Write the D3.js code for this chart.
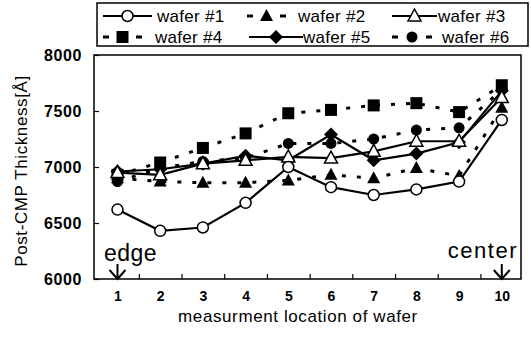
<!DOCTYPE html>
<html><head><meta charset="utf-8">
<script src="https://cdn.jsdelivr.net/npm/d3@7"></script>
<style>
html,body{margin:0;padding:0;background:#fff;}
text{font-family:"Liberation Sans",Arial,sans-serif;fill:#000;}
</style></head>
<body><svg id="c" width="531" height="338"></svg>
<script>
const locations = [1,2,3,4,5,6,7,8,9,10];
const seriesNames = ["wafer #1","wafer #2","wafer #3","wafer #4","wafer #5","wafer #6"];
const wafer1 = [6620,6430,6460,6680,7000,6820,6750,6800,6870,7420];
const wafer2 = [6900,6870,6860,6860,6880,6930,6900,6990,6920,7530];
const wafer3 = [6950,6930,7030,7060,7090,7080,7140,7230,7230,7620];
const wafer4 = [6930,7040,7170,7300,7480,7510,7550,7570,7490,7730];
const wafer5 = [6960,6980,7030,7100,7060,7290,7060,7120,7220,7680];
const wafer6 = [6870,6990,7050,7080,7210,7210,7250,7330,7350,7690];
const yTicks = [6000,6500,7000,7500,8000];
const xTickLabels = ["1","2","3","4","5","6","7","8","9","10"];

const seriesValues = [wafer1,wafer2,wafer3,wafer4,wafer5,wafer6];
const markerTypes = ["circleOpen","triangleFilled","triangleOpen","square","diamond","circleFilled"];
const dashed = [false,true,false,true,false,true];

const svg = d3.select("#c");
const L=94, R=521, T=55, B=279;
const x = d3.scaleLinear().domain([0.45,10.45]).range([L,R]);
const y = d3.scaleLinear().domain([6000,8000]).range([B,T]);

svg.append("rect").attr("x",L).attr("y",T).attr("width",R-L).attr("height",B-T)
  .attr("fill","none").attr("stroke","#000").attr("stroke-width",1.5);

const yAxis = d3.axisLeft(y).tickValues(yTicks).tickSize(-5).tickPadding(12).tickFormat(d3.format("d"));
const gy = svg.append("g").attr("transform",`translate(${L},0)`).call(yAxis);
gy.select(".domain").remove();
gy.selectAll("line").attr("stroke","#000").attr("stroke-width",1.2);
gy.selectAll("text").attr("font-size",16).attr("font-weight","bold")
  .attr("font-family","'Liberation Sans',Arial,sans-serif").attr("letter-spacing","0.6px").attr("dy","0.35em");

const gxT = svg.append("g").attr("transform",`translate(0,${B})`)
  .call(d3.axisBottom(x).tickValues(d3.range(1.5,10,1)).tickSize(-5).tickFormat(""));
gxT.select(".domain").remove();
gxT.selectAll("line").attr("stroke","#000").attr("stroke-width",1.2);
const gxL = svg.append("g").attr("transform",`translate(0,${B})`)
  .call(d3.axisBottom(x).tickValues(locations).tickSize(0).tickPadding(12).tickFormat((d,i)=>xTickLabels[i]));
gxL.select(".domain").remove();
gxL.selectAll("text").attr("font-size",14).attr("font-weight","bold")
  .attr("font-family","'Liberation Sans',Arial,sans-serif");

svg.append("text").attr("x",298).attr("y",322).attr("text-anchor","middle")
  .attr("font-size",17).attr("letter-spacing","0.6px").text("measurment location of wafer");
svg.append("text").attr("transform","translate(27,171) rotate(-90)").attr("text-anchor","middle")
  .attr("font-size",17).attr("letter-spacing","0.6px").text("Post-CMP Thickness[Å]");

function drawMarker(g, type, cx, cy) {
  const s = 6;
  if (type==="circleOpen") g.append("circle").attr("cx",cx).attr("cy",cy).attr("r",5.5).attr("fill","#fff").attr("stroke","#000").attr("stroke-width",1.5);
  else if (type==="circleFilled") g.append("circle").attr("cx",cx).attr("cy",cy).attr("r",5.5).attr("fill","#000");
  else if (type==="square") g.append("rect").attr("x",cx-s).attr("y",cy-s).attr("width",2*s).attr("height",2*s).attr("fill","#000");
  else if (type==="diamond") g.append("path").attr("d",`M${cx},${cy-7}L${cx+7},${cy}L${cx},${cy+7}L${cx-7},${cy}Z`).attr("fill","#000");
  else if (type==="triangleFilled") g.append("path").attr("d",`M${cx},${cy-7}L${cx+6.5},${cy+5}L${cx-6.5},${cy+5}Z`).attr("fill","#000");
  else if (type==="triangleOpen") g.append("path").attr("d",`M${cx},${cy-7}L${cx+6.5},${cy+5}L${cx-6.5},${cy+5}Z`).attr("fill","#fff").attr("stroke","#000").attr("stroke-width",1.5);
}

const line = d3.line().x((d,i)=>x(locations[i])).y(d=>y(d));
seriesValues.forEach((vals,si)=>{
  svg.append("path").attr("d",line(vals)).attr("fill","none").attr("stroke","#000")
    .attr("stroke-width",dashed[si]?3:2.2)
    .attr("stroke-dasharray",dashed[si]?"4,11":null);
});
const order = [3,5,1,4,2,0];
order.forEach(si=>{
  const g = svg.append("g");
  seriesValues[si].forEach((v,i)=>drawMarker(g, markerTypes[si], x(locations[i]), y(v)));
});

svg.append("text").attr("x",104).attr("y",261).attr("font-size",23).attr("letter-spacing","0.5px").text("edge");
svg.append("text").attr("x",518).attr("y",258).attr("text-anchor","end").attr("font-size",22).attr("letter-spacing","1.5px").text("center");
function arrow(xv){
  const ax = x(xv);
  svg.append("path").attr("d",`M${ax},264L${ax},279M${ax-8},270L${ax},279L${ax+8},270`)
    .attr("fill","none").attr("stroke","#000").attr("stroke-width",2);
}
arrow(1); arrow(10);

svg.append("rect").attr("x",97).attr("y",3).attr("width",431).attr("height",43)
  .attr("fill","#fff").attr("stroke","#000").attr("stroke-width",1.5);
const legPos = [
  {x1:103,x2:152,tx:157,y:16},
  {x1:247,x2:286,tx:298,y:16},
  {x1:392,x2:437,tx:438,y:16},
  {x1:103,x2:142,tx:155,y:37},
  {x1:249,x2:303,tx:303,y:37},
  {x1:392,x2:432,tx:442,y:37}
];
seriesNames.forEach((name,si)=>{
  const p = legPos[si];
  const g = svg.append("g");
  const mx = (p.x1+p.x2)/2;
  if (dashed[si]) {
    g.append("line").attr("x1",p.x1).attr("x2",p.x1+6).attr("y1",p.y).attr("y2",p.y).attr("stroke","#000").attr("stroke-width",3);
    g.append("line").attr("x1",p.x2-6).attr("x2",p.x2).attr("y1",p.y).attr("y2",p.y).attr("stroke","#000").attr("stroke-width",3);
  } else {
    g.append("line").attr("x1",p.x1).attr("x2",p.x2).attr("y1",p.y).attr("y2",p.y).attr("stroke","#000").attr("stroke-width",2.2);
  }
  drawMarker(g, markerTypes[si], mx, p.y);
  g.append("text").attr("x",p.tx).attr("y",p.y).attr("dy","0.35em").attr("font-size",17).attr("letter-spacing","0.3px").text(name);
});
</script></body></html>
